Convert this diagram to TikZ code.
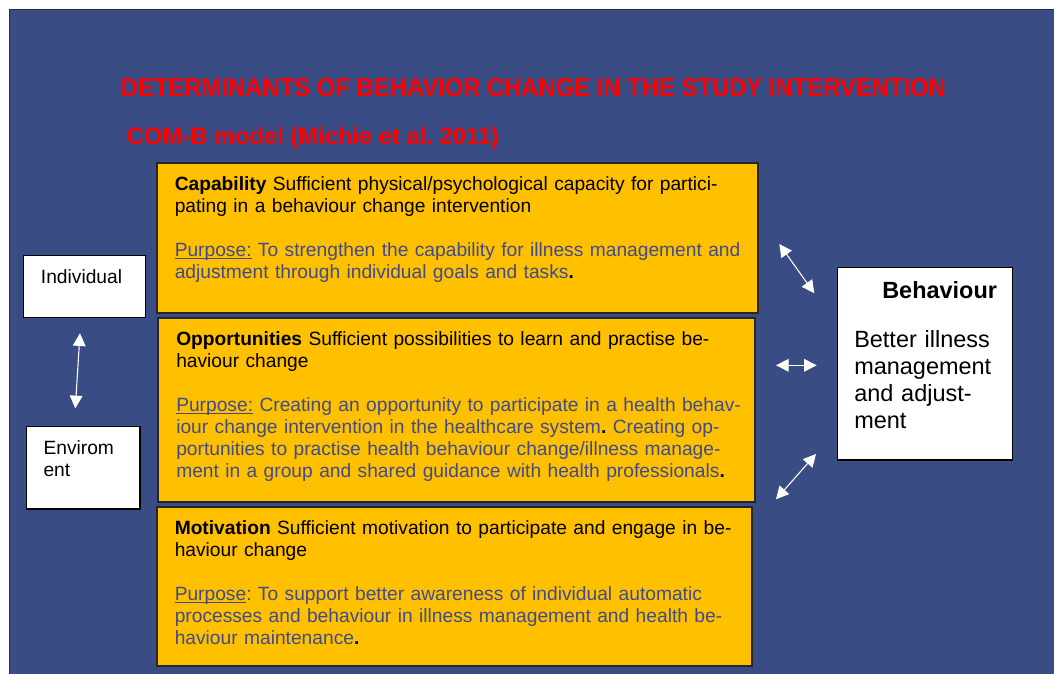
\documentclass[tikz,border=0pt]{standalone}
\usepackage{fontspec}
\setmainfont{Liberation Sans}
\usetikzlibrary{arrows.meta,fit}

\definecolor{panelblue}{RGB}{58,76,132}
\definecolor{boxorange}{RGB}{255,192,0}
\definecolor{purposeblue}{RGB}{64,75,140}
\definecolor{titlered}{RGB}{255,0,0}

% underline that sits just under the baseline
\newcommand\purposeline[1]{\setbox0\hbox{#1}\leavevmode\rlap{\rule[-2pt]{\wd0}{0.7pt}}\box0\relax}
\frenchspacing

\begin{document}
\begin{tikzpicture}[x=0.75pt,y=-0.75pt,
    orangebox/.style={draw=black!85, fill=boxorange, line width=0.8pt, inner sep=0pt},
    whitebox/.style={draw=black, fill=white, line width=0.8pt, inner sep=0pt},
    boxtext/.style={anchor=base west, inner sep=0pt, align=left, text width=460pt,
      font=\fontsize{14.4}{16.5}\selectfont},
    behtext/.style={anchor=base west, inner sep=0pt, align=left, text width=140pt,
      font=\fontsize{17.6}{20.25}\selectfont},
    linkarrow/.style={white, line width=0.8pt,
      {Triangle[length=9.5pt,width=9.5pt]}-{Triangle[length=9.5pt,width=9.5pt]}}]
  \useasboundingbox (0,0) rectangle (1054,674);
  \filldraw[fill=panelblue, draw=panelblue!60!black, line width=1pt]
    (9.5,9.5) rectangle (1070,690);

  % title lines
  \node[anchor=base west, inner sep=0pt, text=titlered] (title) at (120.7,97)
    {\resizebox{618.75pt}{13.5pt}{\bfseries DETERMINANTS OF BEHAVIOR CHANGE IN THE STUDY INTERVENTION}};
  \node[anchor=base west, inner sep=0pt, text=titlered] (subtitle) at (126.7,145)
    {\resizebox{279pt}{!}{\fontsize{17.7}{20}\selectfont\bfseries COM-B model (Michie et al. 2011)}};

  % COM boxes
  \node[orangebox, fit={(157,163) (758,313)}] (cap) {};
  \node[orangebox, fit={(158,318) (755,502)}] (opp) {};
  \node[orangebox, fit={(157,507) (752,666)}] (mot) {};

  \node[boxtext] (captext) at (174.5,190.5) {%
    \textbf{Capability} Sufficient physical/psychological capacity for partici-\\
    pating in a behaviour change intervention\\[16.5pt]
    {\color{purposeblue}\purposeline{Purpose:} To strengthen the capability for illness management and\\
    adjustment through individual goals and tasks}\textbf{.}};
  \node[boxtext] (opptext) at (176,345) {%
    \textbf{Opportunities} Sufficient possibilities to learn and practise be-\\
    haviour change\\[16.5pt]
    {\color{purposeblue}\purposeline{Purpose:} Creating an opportunity to participate in a health behav-\\
    iour change intervention in the healthcare system}\textbf{.} {\color{purposeblue}Creating op-\\
    portunities to practise health behaviour change/illness manage-\\
    ment in a group and shared guidance with health professionals}\textbf{.}};
  \node[boxtext] (mottext) at (174.5,534) {%
    \textbf{Motivation} Sufficient motivation to participate and engage in be-\\
    haviour change\\[16.5pt]
    {\color{purposeblue}\purposeline{Purpose}: To support better awareness of individual automatic\\
    processes and behaviour in illness management and health be-\\
    haviour maintenance}\textbf{.}};

  % side boxes
  \node[whitebox, fit={(23.3,255.7) (145.7,317.3)}] (indiv) {};
  \node[whitebox, fit={(26.7,426.7) (140,509)}] (envir) {};
  \node[whitebox, fit={(837.3,267.7) (1012.3,460)}] (behav) {};

  \node[boxtext, text width=100pt] (indivtext) at (40.7,283) {Individual};
  \node[boxtext, text width=100pt] (envirtext) at (43.3,454) {Envirom\\ent};
  \node[behtext] (behavhead) at (882,298) {\textbf{Behaviour}};
  \node[behtext] (behavtext) at (854,347) {Better illness\\management\\and adjust-\\ment};

  % arrow ends
  \coordinate (ie1) at (80,333.3);
  \coordinate (ie2) at (75.3,408.3);
  \coordinate (cb1) at (779.3,244);
  \coordinate (cb2) at (814.3,293.3);
  \coordinate (ob1) at (776,365.3);
  \coordinate (ob2) at (816.7,365.3);
  \coordinate (mb1) at (776,499.3);
  \coordinate (mb2) at (816,454);

  \draw[linkarrow] (ie1) -- (ie2);
  \draw[linkarrow] (cb1) -- (cb2);
  \draw[linkarrow] (ob1) -- (ob2);
  \draw[linkarrow] (mb1) -- (mb2);
\end{tikzpicture}
\end{document}
